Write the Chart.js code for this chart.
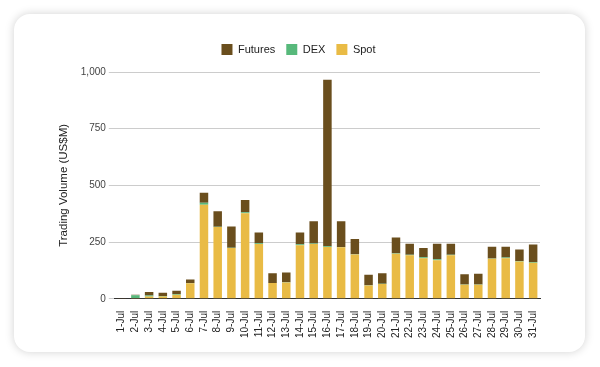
<!DOCTYPE html>
<html>
<head>
<meta charset="utf-8">
<script src="https://cdn.jsdelivr.net/npm/chart.js@4"></script>
<style>
  html, body { margin: 0; padding: 0; background: #ffffff; width: 600px; height: 367px; overflow: hidden; }
  #card { position: absolute; left: 14px; top: 14px; width: 571px; height: 338px; border-radius: 16px; background: #fff;
          box-shadow: 0 0 10px rgba(0,0,0,0.18); }
  #c { position: absolute; left: 0; top: 0; }
</style>
</head>
<body>
<div id="card"></div>
<canvas id="c" width="600" height="367"></canvas>
<script>
const categories = ["1-Jul","2-Jul","3-Jul","4-Jul","5-Jul","6-Jul","7-Jul","8-Jul","9-Jul","10-Jul","11-Jul","12-Jul","13-Jul","14-Jul","15-Jul","16-Jul","17-Jul","18-Jul","19-Jul","20-Jul","21-Jul","22-Jul","23-Jul","24-Jul","25-Jul","26-Jul","27-Jul","28-Jul","29-Jul","30-Jul","31-Jul"];
const spot    = [0, 3, 10, 10, 18, 68, 415, 317, 224, 377, 242, 69, 72, 236, 242, 228, 227, 195, 59, 65, 199, 192, 179, 170, 192, 62, 62, 177, 179, 164, 159];
const dex     = [2, 13, 4, 2, 3, 1, 8, 1, 1, 4, 3, 1, 1, 4, 2, 4, 1, 1, 1, 1, 2, 2, 4, 4, 2, 1, 1, 1, 3, 3, 3];
const futures = [1, 2, 16, 15, 14, 16, 44, 68, 94, 55, 47, 42, 43, 52, 98, 734, 114, 67, 46, 46, 69, 49, 41, 69, 49, 45, 47, 51, 47, 50, 77];
const yTicks  = [0, 250, 500, 750, 1000];

const FONT = "'Liberation Sans', Arial, sans-serif";
const legendSpacing = {
  id: 'legendSpacing',
  beforeInit(chart) {
    const orig = chart.legend.fit;
    chart.legend.fit = function () { orig.bind(chart.legend)(); this.height += 7; };
  }
};
new Chart(document.getElementById('c'), {
  type: 'bar',
  data: {
    labels: categories,
    datasets: [
      { label: 'Spot', data: spot, backgroundColor: '#e9bb45' },
      { label: 'DEX', data: dex, backgroundColor: '#57b97b' },
      { label: 'Futures', data: futures, backgroundColor: '#6a4e1d' }
    ]
  },
  plugins: [legendSpacing],
  options: {
    responsive: false,
    animation: false,
    layout: { padding: { left: 57, right: 60, top: 33, bottom: 25 } },
    datasets: { bar: { barPercentage: 0.62, categoryPercentage: 1.0 } },
    plugins: {
      legend: {
        position: 'top',
        reverse: true,
        labels: { boxWidth: 11, boxHeight: 11, padding: 11, color: '#222', font: { family: FONT, size: 11 } }
      },
      tooltip: { enabled: false }
    },
    scales: {
      x: {
        stacked: true,
        grid: { display: false },
        border: { display: true, color: '#333', width: 1 },
        ticks: { color: '#222', font: { family: FONT, size: 10 }, maxRotation: 90, minRotation: 90, autoSkip: false, padding: 4 }
      },
      y: {
        stacked: true,
        min: 0, max: 1000,
        afterBuildTicks: (axis) => { axis.ticks = yTicks.map(v => ({ value: v })); },
        grid: { color: '#cccccc', tickLength: 6, drawTicks: true },
        border: { display: false },
        ticks: { color: '#444', font: { family: FONT, size: 10 }, padding: 3,
                 callback: (v) => Number(v).toLocaleString('en-US') },
        title: { display: true, text: 'Trading Volume (US$M)', color: '#222', font: { family: FONT, size: 11.5 }, padding: { top: 0, bottom: 7 } }
      }
    }
  }
});
</script>
</body>
</html>
